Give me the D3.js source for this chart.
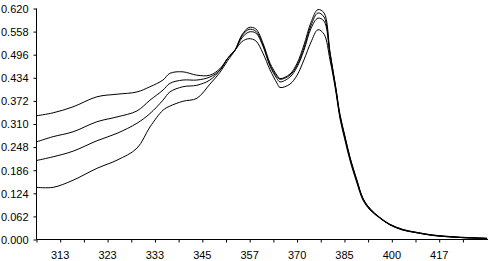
<!DOCTYPE html>
<html><head><meta charset="utf-8">
<script src="https://cdn.jsdelivr.net/npm/d3@7"></script>
<style>
html,body{margin:0;padding:0;background:#fff;}
svg{display:block;}
text{font-family:"Liberation Sans Narrow","Arial Narrow","Liberation Sans",Arial,sans-serif;font-size:11px;fill:#000;}
</style></head><body>
<svg id="c" width="488" height="261"></svg>
<script>
// x positions in axis tick units (one tick = one unit, labels on every other tick)
const xPos = [0,0.70,1.54,2.55,3.40,4.24,4.79,5.34,5.63,6.18,6.77,7.32,7.75,8.08,8.38,8.67,8.97,9.26,9.56,9.86,10.15,10.28,10.70,11.00,11.29,11.59,11.88,12.14,12.39,12.64,12.81,13.02,13.23,13.53,13.78,14.08,14.50,14.92,15.47,15.97,16.61,17.03,18.00,19.02];
const tickLabels = ["313","323","333","345","357","370","385","400","417"];
const labelPos = [1,3,5,7,9,11,13,15,17];
const yTicks = [0,0.062,0.124,0.186,0.248,0.310,0.372,0.434,0.496,0.558,0.620];

const series1 = [0.332,0.340,0.356,0.383,0.390,0.396,0.410,0.428,0.446,0.450,0.441,0.441,0.459,0.487,0.508,0.531,0.539,0.533,0.500,0.455,0.420,0.408,0.417,0.441,0.482,0.530,0.563,0.551,0.482,0.396,0.325,0.267,0.213,0.151,0.106,0.079,0.057,0.039,0.025,0.019,0.012,0.009,0.005,0.003];
const series2 = [0.262,0.276,0.289,0.316,0.329,0.345,0.374,0.401,0.419,0.428,0.428,0.436,0.455,0.487,0.508,0.541,0.557,0.554,0.519,0.465,0.432,0.423,0.436,0.463,0.508,0.567,0.594,0.586,0.495,0.401,0.330,0.272,0.218,0.155,0.109,0.081,0.058,0.040,0.026,0.019,0.012,0.009,0.005,0.003];
const series3 = [0.212,0.222,0.237,0.265,0.285,0.312,0.338,0.374,0.396,0.410,0.414,0.428,0.455,0.487,0.508,0.546,0.564,0.559,0.522,0.468,0.437,0.430,0.441,0.468,0.514,0.575,0.608,0.597,0.500,0.404,0.333,0.275,0.220,0.157,0.110,0.082,0.058,0.040,0.026,0.020,0.013,0.010,0.005,0.003];
const series4 = [0.140,0.140,0.159,0.191,0.213,0.245,0.302,0.347,0.358,0.371,0.379,0.417,0.449,0.481,0.508,0.549,0.569,0.565,0.527,0.473,0.441,0.432,0.444,0.473,0.522,0.583,0.617,0.608,0.503,0.406,0.336,0.278,0.222,0.159,0.111,0.083,0.059,0.041,0.027,0.020,0.013,0.010,0.006,0.003];
const allSeries = [series1,series2,series3,series4];

const svg = d3.select("#c");
const x = d3.scaleLinear().domain([0,19.06]).range([36.5,488]);
const y = d3.scaleLinear().domain([0,0.62]).range([239.5,8.5]);

// y axis
const ya = svg.append("g").attr("transform","translate(36.5,0)")
  .call(d3.axisLeft(y).tickValues(yTicks).tickFormat(d3.format(".3f")).tickSizeOuter(0).tickSize(3).tickPadding(5));
ya.select(".domain").attr("stroke","#000").attr("d","M0,8.5V239.5");
ya.selectAll(".tick line").attr("stroke","#000");
ya.selectAll("text").attr("font-size",null).attr("font-family",null).attr("dy","0.35em");

// x axis ticks
const xa = svg.append("g").attr("transform","translate(0,239.5)")
  .call(d3.axisBottom(x).tickValues(d3.range(0,19)).tickFormat("").tickSizeOuter(0).tickSize(3));
xa.select(".domain").attr("stroke","#000").attr("d","M36.5,0H488");
xa.selectAll(".tick line").attr("stroke","#000");

// x labels (every other tick)
svg.append("g").selectAll("text").data(tickLabels).join("text")
  .attr("x",(d,i)=>x(labelPos[i]))
  .attr("y",258.5)
  .attr("text-anchor","middle")
  .text(d=>d);

const line = d3.line().x((d,i)=>x(xPos[i])).y(d=>y(d)).curve(d3.curveCatmullRom.alpha(0.5));
svg.append("g").selectAll("path").data(allSeries).join("path")
  .attr("d",line).attr("fill","none").attr("stroke","#000").attr("stroke-width",1);
</script>
</body></html>
